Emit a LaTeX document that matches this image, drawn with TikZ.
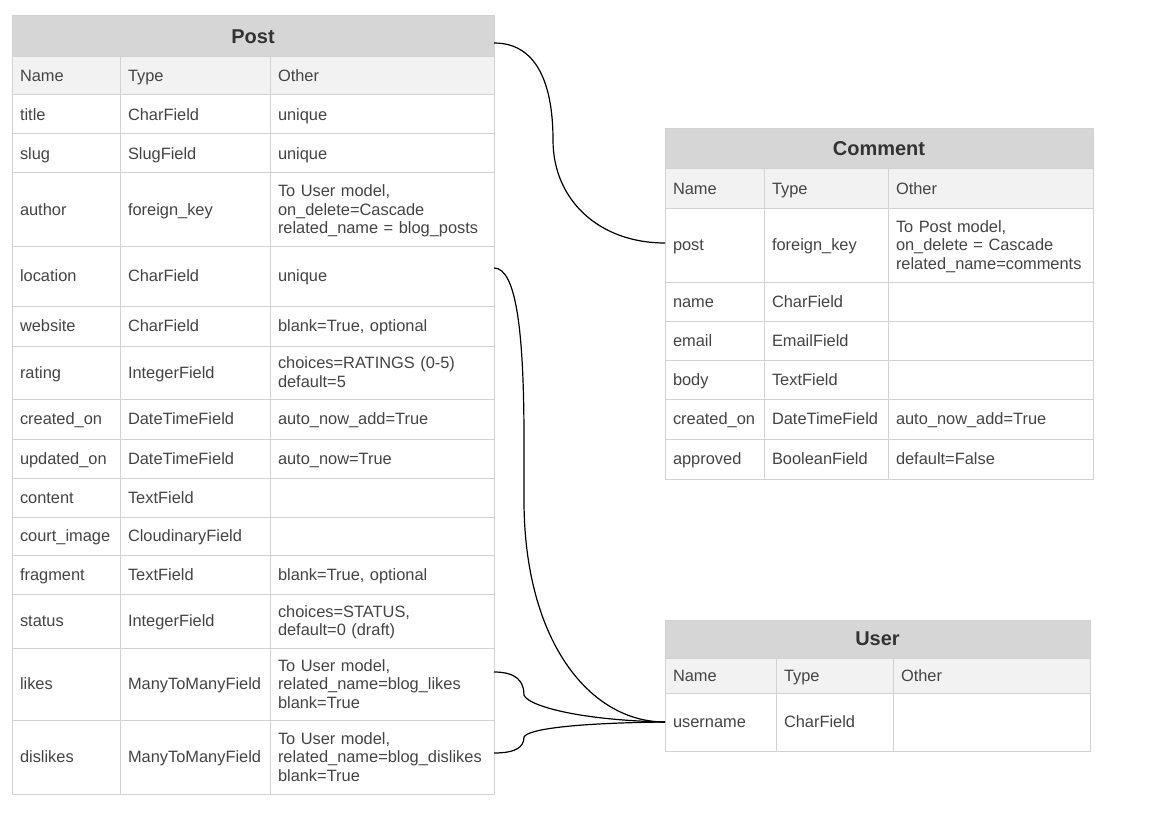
\documentclass[tikz,border=0pt]{standalone}
\usepackage{fontspec}
\setmainfont{Liberation Sans}
\usepackage{tikz}
\hyphenpenalty=10000
\exhyphenpenalty=10000

\definecolor{gridline}{HTML}{D2D2D2}
\definecolor{titlefill}{HTML}{D6D6D6}
\definecolor{headfill}{HTML}{F2F2F2}
\definecolor{celltext}{HTML}{444444}
\definecolor{titletext}{HTML}{333333}

\begin{document}
\begin{tikzpicture}[x=1pt, y=-1pt,
  cell/.style={draw=gridline, line width=1pt, anchor=north west, align=left,
    inner xsep=8pt, inner ysep=0pt, outer sep=0pt, text=celltext,
    font=\fontsize{16.4}{18.5}\selectfont,
    execute at begin node=\rule{0pt}{15pt}, execute at end node=\rule[-3.6pt]{0pt}{3.6pt}},
  headcell/.style={cell, fill=headfill},
  titlecell/.style={draw=gridline, line width=1pt, fill=titlefill, anchor=north west,
    inner sep=0pt, outer sep=0pt, text=titletext,
    font=\fontsize{20}{24}\selectfont\bfseries},
  link/.style={draw=black, line width=1.2pt}]

  \fill[white] (0,0) rectangle (1157,832);
  \useasboundingbox (0,0) rectangle (1157,832);

  % Post
  \node[titlecell, minimum width=482pt, minimum height=41pt] (post-title) at (12,16) {Post};
  \node[headcell, text width=92pt, minimum height=38pt] (post-head-n) at (12,57) {Name};
  \node[headcell, text width=134pt, minimum height=38pt] (post-head-t) at (120,57) {Type};
  \node[headcell, text width=208pt, minimum height=38pt] (post-head-o) at (270,57) {Other};
  \foreach \n/\t/\o/\y/\h [count=\i] in {
      title/CharField/unique/95/39pt,
      slug/SlugField/unique/134/39pt,
      author/foreign\_key/{To User model,\\on\_delete=Cascade\\related\_name = blog\_posts}/173/73pt,
      location/CharField/unique/246/60pt,
      website/CharField/{blank=True, optional}/306/40pt,
      rating/IntegerField/{choices=RATINGS (0-5)\\default=5}/346/53pt,
      created\_on/DateTimeField/auto\_now\_add=True/399/40pt,
      updated\_on/DateTimeField/auto\_now=True/439/39pt,
      content/TextField/{}/478/39pt,
      court\_image/CloudinaryField/{}/517/38pt,
      fragment/TextField/{blank=True, optional}/555/39pt,
      status/IntegerField/{choices=STATUS,\\default=0 (draft)}/594/54pt,
      likes/ManyToManyField/{To User model,\\related\_name=blog\_likes\\blank=True}/648/72pt,
      dislikes/ManyToManyField/{To User model,\\related\_name=blog\_dislikes\\blank=True}/720/74pt} {
    \node[cell, text width=92pt, minimum height=\h] (post-\i-n) at (12,\y) {\n};
    \node[cell, text width=134pt, minimum height=\h] (post-\i-t) at (120,\y) {\t};
    \node[cell, text width=208pt, minimum height=\h] (post-\i-o) at (270,\y) {\o};
  }

  % Comment
  \node[titlecell, minimum width=428pt, minimum height=40pt] (comment-title) at (665,129) {Comment};
  \node[headcell, text width=83pt, minimum height=39pt] (comment-head-n) at (665,169) {Name};
  \node[headcell, text width=108pt, minimum height=39pt] (comment-head-t) at (764,169) {Type};
  \node[headcell, text width=189pt, minimum height=39pt] (comment-head-o) at (888,169) {Other};
  \foreach \n/\t/\o/\y/\h [count=\i] in {
      post/foreign\_key/{To Post model,\\on\_delete = Cascade\\related\_name=comments}/208/74pt,
      name/CharField/{}/282/39pt,
      email/EmailField/{}/321/39pt,
      body/TextField/{}/360/39pt,
      created\_on/DateTimeField/auto\_now\_add=True/399/40pt,
      approved/BooleanField/default=False/439/40pt} {
    \node[cell, text width=83pt, minimum height=\h] (comment-\i-n) at (665,\y) {\n};
    \node[cell, text width=108pt, minimum height=\h] (comment-\i-t) at (764,\y) {\t};
    \node[cell, text width=189pt, minimum height=\h] (comment-\i-o) at (888,\y) {\o};
  }

  % User
  \node[titlecell, minimum width=425pt, minimum height=38pt] (user-title) at (665,620) {User};
  \node[headcell, text width=95pt, minimum height=35pt] (user-head-n) at (665,658) {Name};
  \node[headcell, text width=101pt, minimum height=35pt] (user-head-t) at (776,658) {Type};
  \node[headcell, text width=181pt, minimum height=35pt] (user-head-o) at (893,658) {Other};
  \node[cell, text width=95pt, minimum height=58pt] (user-1-n) at (665,693) {username};
  \node[cell, text width=101pt, minimum height=58pt] (user-1-t) at (776,693) {CharField};
  \node[cell, text width=181pt, minimum height=58pt] (user-1-o) at (893,693) {};

  % links
  \coordinate (bend-comment) at (553,140);
  \coordinate (bend-location-a) at (524,440);
  \coordinate (bend-location-b) at (524,500);
  \coordinate (bend-likes) at (524,695);
  \coordinate (bend-dislikes) at (524,737);

  \draw[link] ([yshift=-6.5pt]post-title.east) .. controls +(46,0) and +(0,-50) .. (bend-comment)
    .. controls +(0,60) and +(-66,0) .. ([yshift=2pt]comment-1-n.west);
  \draw[link] ([yshift=8pt]post-4-o.east) .. controls +(22,0) and +(0,-110) .. (bend-location-a)
    -- (bend-location-b) .. controls +(0,140) and +(-76,0) .. (user-1-n.west);
  \draw[link] ([yshift=12pt]post-13-o.east) .. controls +(22,0) and +(0,-14) .. (bend-likes)
    .. controls +(3,10) and +(-90,-2) .. (user-1-n.west);
  \draw[link] ([yshift=4pt]post-14-o.east) .. controls +(22,0) and +(0,10) .. (bend-dislikes)
    .. controls +(4,-8) and +(-90,1) .. (user-1-n.west);
\end{tikzpicture}
\end{document}
